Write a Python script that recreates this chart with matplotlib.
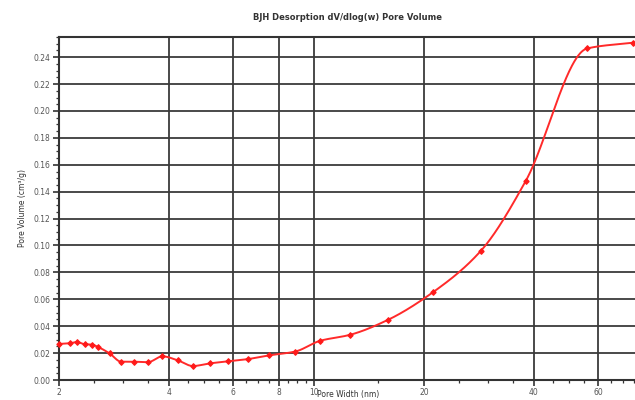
import numpy as np
import matplotlib
matplotlib.use("Agg")
import matplotlib.pyplot as plt
from matplotlib.ticker import FixedLocator, NullFormatter, MultipleLocator

# BJH desorption pore-size distribution
pore_width_nm = [2.00, 2.14, 2.24, 2.35, 2.46, 2.56, 2.75, 2.96, 3.20, 3.50,
                 3.84, 4.23, 4.65, 5.19, 5.82, 6.60, 7.52, 8.86, 10.4, 12.5,
                 15.9, 21.2, 28.6, 38.0, 56.0, 74.8]
pore_volume = [0.0268, 0.0273, 0.0282, 0.0266, 0.0263, 0.0245, 0.0198, 0.0136,
               0.0136, 0.0132, 0.0176, 0.0146, 0.0104, 0.0124, 0.0139, 0.0156,
               0.0183, 0.0211, 0.0292, 0.0335, 0.0446, 0.0654, 0.0959, 0.1480,
               0.2465, 0.2508]

x_major = [2, 4, 6, 8, 10, 20, 40, 60]
x_minor = [2.5, 3, 3.5, 4.5, 5, 5.5, 6.5, 7, 7.5, 8.5, 9, 9.5,
           15, 25, 30, 35, 45, 50, 55, 65, 70, 75]


def pchip(xk, yk, xq):
    """Monotone piecewise-cubic Hermite interpolation."""
    xk = np.asarray(xk, float)
    yk = np.asarray(yk, float)
    h = np.diff(xk)
    d = np.diff(yk) / h
    n = len(xk)
    m = np.zeros(n)
    for i in range(1, n - 1):
        if d[i - 1] * d[i] > 0:
            w1 = 2 * h[i] + h[i - 1]
            w2 = h[i] + 2 * h[i - 1]
            m[i] = (w1 + w2) / (w1 / d[i - 1] + w2 / d[i])
    m[0] = d[0]
    m[-1] = d[-1]
    idx = np.clip(np.searchsorted(xk, xq) - 1, 0, n - 2)
    t = (xq - xk[idx]) / h[idx]
    h00 = 2 * t**3 - 3 * t**2 + 1
    h10 = t**3 - 2 * t**2 + t
    h01 = -2 * t**3 + 3 * t**2
    h11 = t**3 - t**2
    return (h00 * yk[idx] + h10 * h[idx] * m[idx]
            + h01 * yk[idx + 1] + h11 * h[idx] * m[idx + 1])


lx = np.log10(pore_width_nm)
lq = np.linspace(lx[0], lx[-1], 800)
smooth_y = pchip(lx, pore_volume, lq)

fig = plt.figure(figsize=(6.35, 4.0), dpi=100)
ax = fig.add_axes([0.093, 0.05, 0.907, 0.8575])

ax.set_xscale("log")
ax.set_xlim(2, 75.7)
ax.set_ylim(0, 0.255)

ax.plot(10 ** lq, smooth_y, color="#ff2a2a", lw=1.4, zorder=3, clip_on=False)
ax.plot(pore_width_nm, pore_volume, ls="none", marker="D", ms=2.6,
        color="#ff1a1a", zorder=4, clip_on=False)
ax.plot(pore_width_nm, pore_volume, ls="none", marker="|", ms=5, mew=0.9,
        color="#ff1a1a", zorder=4, clip_on=False)

ax.xaxis.set_major_locator(FixedLocator(x_major))
ax.xaxis.set_minor_locator(FixedLocator(x_minor))
ax.xaxis.set_minor_formatter(NullFormatter())
ax.set_xticklabels([str(v) for v in x_major])
ax.yaxis.set_major_locator(MultipleLocator(0.02))
ax.yaxis.set_minor_locator(MultipleLocator(0.005))
ax.yaxis.set_major_formatter(matplotlib.ticker.FormatStrFormatter("%.2f"))

ax.grid(True, which="major", color="#3a3a3a", lw=1.3)
ax.set_axisbelow(True)

for side in ("left", "bottom", "top"):
    ax.spines[side].set_color("#333333")
    ax.spines[side].set_linewidth(1.5)
ax.spines["right"].set_visible(False)

ax.tick_params(axis="both", which="major", direction="out", length=4,
               width=1.2, color="#333333", labelsize=5.5,
               labelcolor="#555555", pad=2)
ax.tick_params(axis="both", which="minor", direction="out", length=2.2,
               width=0.9, color="#333333")

ax.set_title("BJH Desorption dV/dlog(w) Pore Volume", fontsize=6,
             fontweight="bold", color="#333333", pad=12)
ax.set_ylabel("Pore Volume (cm\u00b3/g)", fontsize=5.5, color="#333333",
              labelpad=5)
fig.text(0.549, 0.002, "Pore Width (nm)", fontsize=5.5, color="#333333",
         ha="center", va="bottom")

fig.savefig("out.png", dpi=100)
